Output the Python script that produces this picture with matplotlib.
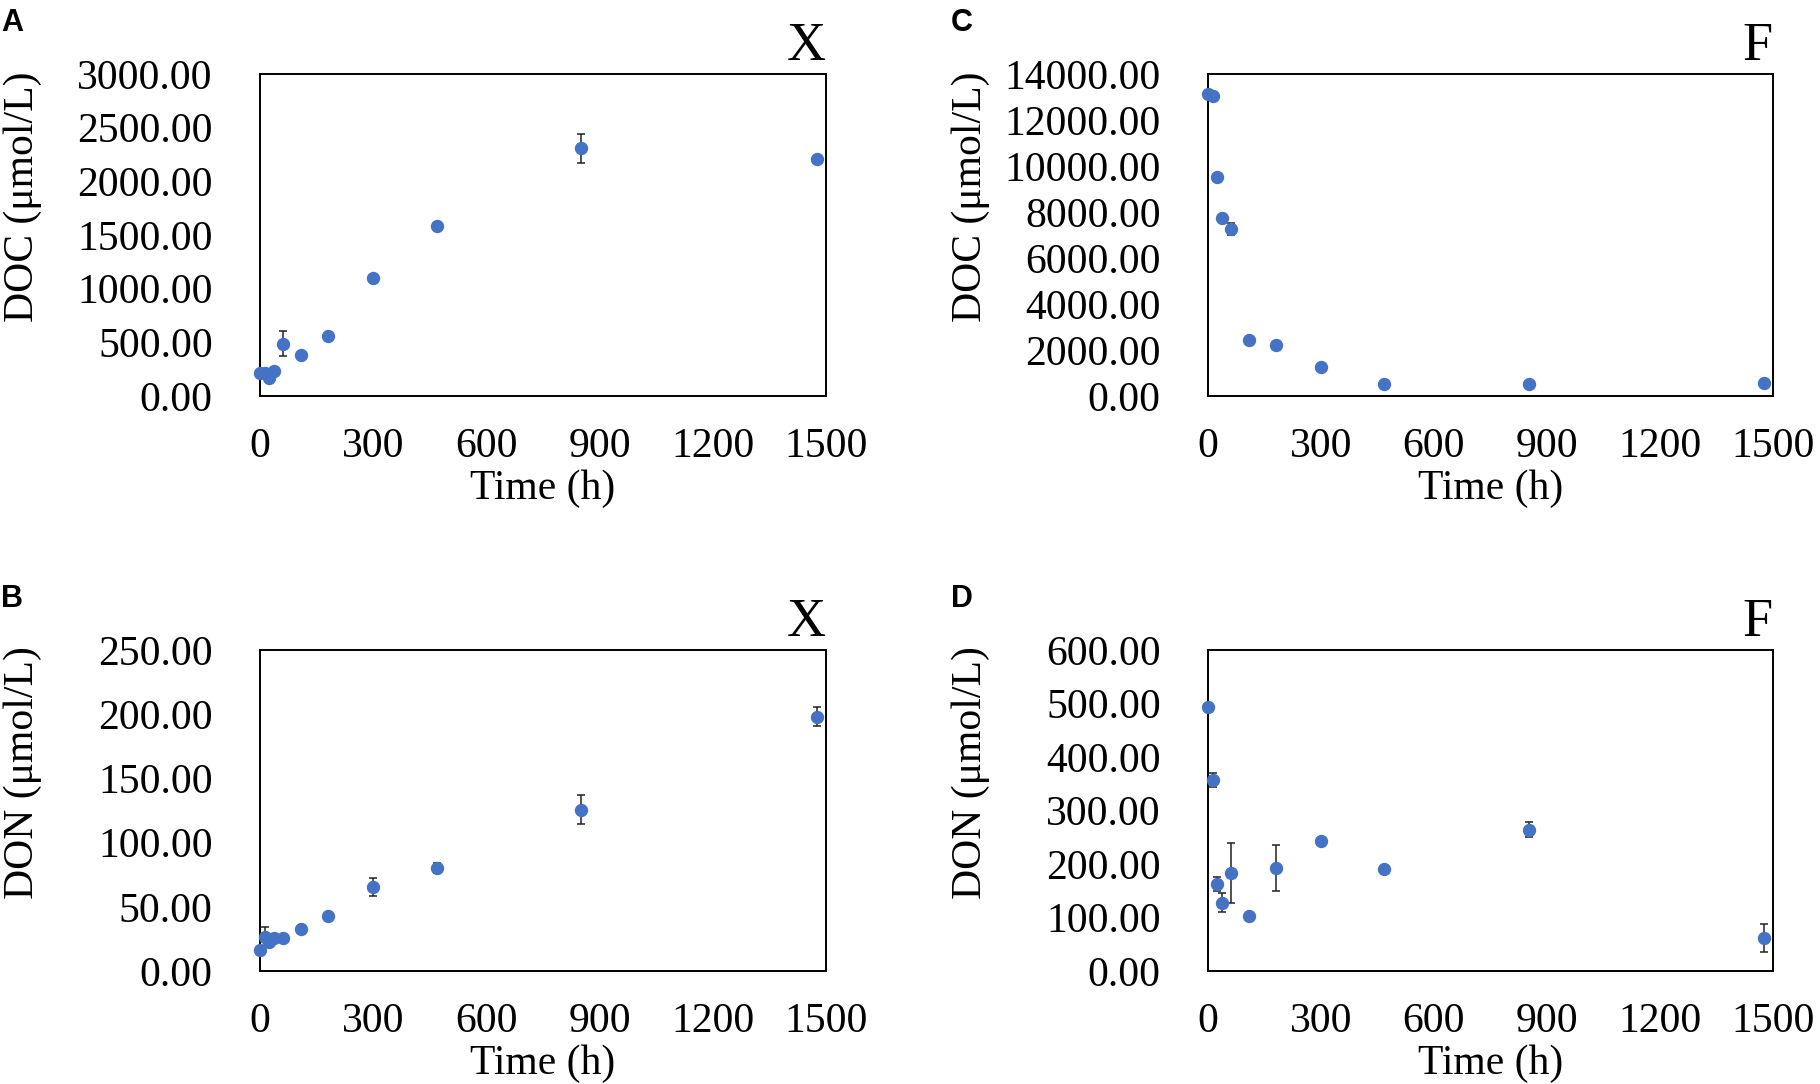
import matplotlib
matplotlib.use("Agg")
import matplotlib.pyplot as plt
from matplotlib.ticker import FormatStrFormatter, MultipleLocator

# ---- data ----
time_h = [0, 12, 24, 36, 60, 108, 180, 300, 468, 852, 1476]

doc_x = [214, 214, 171, 236, 488, 382, 556, 1100, 1585, 2307, 2207]
doc_x_err = [0, 0, 0, 0, 113, 0, 0, 0, 0, 138, 28]

don_x = [16.1, 26.7, 22.8, 25.4, 25.4, 32.7, 42.6, 65.2, 80.5, 125.4, 198.1]
don_x_err = [0, 7.8, 0, 0, 0, 0, 0, 7.0, 4.0, 11.3, 7.5]

doc_f = [13130, 13040, 9500, 7760, 7240, 2420, 2230, 1250, 520, 520, 550]
doc_f_err = [0, 150, 0, 0, 260, 0, 0, 0, 0, 0, 0]

don_f = [493.5, 357, 162.6, 127.7, 183.8, 103.4, 191.9, 242.4, 190.7, 263.6, 62.3]
don_f_err = [0, 14, 14, 18, 56, 0, 43, 0, 0, 14, 26]

x_ticks = [0, 300, 600, 900, 1200, 1500]

panels = [
    # letter, series, err, ylabel, ymax, ystep, treatment
    ("A", doc_x, doc_x_err, "DOC (μmol/L)", 3000, 500, "X"),
    ("B", don_x, don_x_err, "DON (μmol/L)", 250, 50, "X"),
    ("C", doc_f, doc_f_err, "DOC (μmol/L)", 14000, 2000, "F"),
    ("D", don_f, don_f_err, "DON (μmol/L)", 600, 100, "F"),
]

W, H = 1820, 1084
# axes boxes in pixels: left, top, right, bottom
boxes = {
    "A": (260, 74, 826, 396),
    "B": (260, 650, 826, 971),
    "C": (1208, 74, 1773, 396),
    "D": (1208, 650, 1773, 971),
}
letter_pos = {"A": (1, 8), "B": (1, 584), "C": (951, 8), "D": (951, 584)}

serif = "Liberation Serif"
blue = "#4472C4"
fs = 30

fig = plt.figure(figsize=(W / 100, H / 100), dpi=100)

for letter, vals, errs, ylab, ymax, ystep, treat in panels:
    l, t, r, b = boxes[letter]
    ax = fig.add_axes([l / W, 1 - b / H, (r - l) / W, (b - t) / H])
    ax.errorbar(time_h, vals, yerr=errs, fmt="o", color=blue, ms=8.6,
                ecolor="#222222", elinewidth=1.1, capsize=3.2, capthick=1.1,
                clip_on=False, zorder=3)
    ax.set_xlim(0, 1500)
    ax.set_ylim(0, ymax)
    ax.set_xticks(x_ticks)
    ax.yaxis.set_major_locator(MultipleLocator(ystep))
    ax.yaxis.set_major_formatter(FormatStrFormatter("%.2f"))
    ax.tick_params(axis="both", length=0, labelsize=fs)
    ax.tick_params(axis="y", pad=34)
    ax.tick_params(axis="x", pad=23)
    for lab in ax.get_xticklabels() + ax.get_yticklabels():
        lab.set_fontfamily(serif)
    for sp in ax.spines.values():
        sp.set_linewidth(1.4)
        sp.set_color("black")
    ax.set_xlabel("Time (h)", fontsize=fs, family=serif, labelpad=2)
    ax.set_ylabel(ylab, fontsize=fs, family=serif)
    ax.yaxis.set_label_coords(-0.385, 0.618)
    ax.set_title(treat, loc="right", fontsize=39, family=serif, pad=10)
    lx, ly = letter_pos[letter]
    fig.text(lx / W, 1 - ly / H, letter, fontsize=22, fontweight="bold",
             family="Liberation Sans", ha="left", va="top")

fig.savefig("out.png", dpi=100)
